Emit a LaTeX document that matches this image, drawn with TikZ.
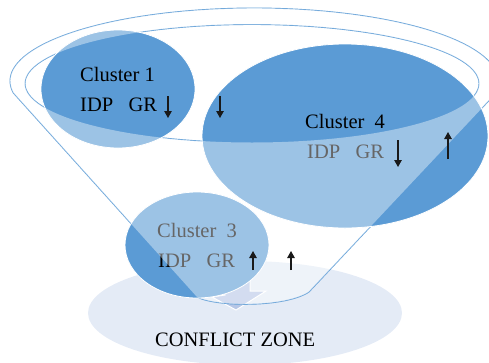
\documentclass[tikz,border=0pt]{standalone}
\usepackage{fontspec}
\setmainfont{Liberation Serif}
\usetikzlibrary{arrows.meta}
\definecolor{clusterblue}{HTML}{5B9BD5}
\definecolor{zonefill}{HTML}{E4EBF6}
\definecolor{flowfill}{HTML}{B6C6E6}
% outline of the funnel: back rim over the top, cone sides, narrow bottom
\def\funnelpath{plot[domain=-189.5:15, samples=100] ({254+244*cos(\x)}, {81+73*sin(\x)})
  -- (309,292) .. controls (285,308) and (215,307) .. (197,297) -- cycle}
\begin{document}
\begin{tikzpicture}[x=1pt, y=-1pt,
  cluster/.style={fill=clusterblue, draw=white, line width=0.8pt},
  rim/.style={draw=clusterblue, line width=0.9pt},
  trend/.style={-{Triangle[length=7pt,width=7.5pt]}, line width=1.2pt, black!90},
  lbl/.style={anchor=base west, inner sep=0pt, font=\fontsize{20.5}{24}\selectfont}]
\useasboundingbox (0,0) rectangle (489,362);
\clip (0,0) rectangle (489,362);

% conflict zone
\fill[zonefill] (245,313) ellipse [x radius=157pt, y radius=52pt];

% block arrow leaving the funnel
\draw[fill=flowfill, draw=white, line width=1pt]
  (224,270) -- (250,270) -- (250,291) -- (266,291) -- (236,310) -- (212,297) -- (225,295) -- cycle;

% funnel lines
\draw[rim] \funnelpath;
\draw[rim] (252,83.5) ellipse [x radius=227pt, y radius=59pt];

% clusters
\fill[cluster] (118,89) ellipse [x radius=77pt, y radius=59pt];
\fill[cluster] (345,136) ellipse [x radius=143pt, y radius=92pt];
\draw[cluster] (197,245) ellipse [x radius=72pt, y radius=53pt];

% cluster labels
\node[lbl] (c1) at (80,81) {Cluster 1};
\node[lbl] (c1i) at (80,111) {IDP\ \ \ GR};
\node[lbl] (c4) at (305,128) {Cluster\ \ 4};
\node[lbl] (c4i) at (307,158) {IDP\ \ \ GR};
\node[lbl] (c3) at (157,237) {Cluster\ \ 3};
\node[lbl] (c3i) at (158,267) {IDP\ \ \ GR};

% translucent funnel wall
\fill[white, opacity=0.4, even odd rule] \funnelpath
  (252,83.5) ellipse [x radius=227pt, y radius=59pt];

\node[lbl] (cz) at (155,346) {CONFLICT ZONE};

% trend arrows
\draw[trend] (168,96) -- (168,118);
\draw[trend] (220,96) -- (220,118);
\draw[trend] (398,140) -- (398,167);
\draw[trend] (448,159) -- (448,132);
\draw[trend] (253,270) -- (253,251);
\draw[trend] (291,270) -- (291,251);
\end{tikzpicture}
\end{document}
